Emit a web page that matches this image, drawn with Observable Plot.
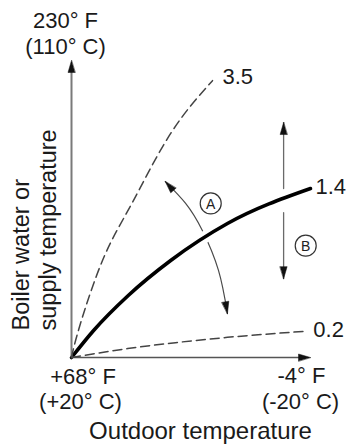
<!DOCTYPE html>
<html><head><meta charset="utf-8">
<script src="https://cdn.jsdelivr.net/npm/d3@7"></script>
<script src="https://cdn.jsdelivr.net/npm/@observablehq/plot@0.6"></script>
<style>body{margin:0;background:#fff}</style>
</head><body><div id="chart"></div>
<script>
// x: outdoor temperature (°C), y: boiler water / supply temperature (°C)
const curve35 = [[20,20],[18.5,30.3],[14.6,50.3],[9.8,67],[3.4,87.9],[-3.6,103.9]];
const curve14 = [[20,20],[16.3,28.2],[10.5,38.8],[3.4,49.4],[-6.1,60.6],[-20,71.2]];
const curve02 = [[20,20],[10.6,22.7],[2.6,24.5],[-6.1,26.1],[-18.8,27.9]];
const slopeLabels = ["3.5","1.4","0.2"];
const arcA = [[4.3,73.3],[0.9,66.7],[-1.9,58.5],[-4.6,46.4],[-6.1,33.3]];
const arrowBUp = [[-15.5,71.2],[-15.5,91.2]];
const arrowBDown = [[-15.5,63.9],[-15.5,43.9]];
const circleLabels = ["A","B"];
const circleX = [-3.3,-19.2];
const circleY = [66.7,53.9];
const xTickPos = [20,-20];
const xTickF = ["+68° F","-4° F"];
const xTickC = ["(+20° C)","(-20° C)"];
const yTickPos = [110];
const yTickF = ["230° F"];
const yTickC = ["(110° C)"];
const xTitle = "Outdoor temperature";
const yTitle = ["Boiler water or","supply temperature"];
const headX = [20,-20,-15.5,-15.5,4.3,-6.1];
const headY = [110,20,91.2,43.9,73.3,33.3];
const headAngle = [0,90,0,180,-42,170];

const X = d => d[0], Y = d => d[1];
const heads = headX.map((x,i)=>({x, y: headY[i], a: headAngle[i]}));
const circles = circleLabels.map((t,i)=>({t, x: circleX[i], y: circleY[i]}));
const ends = [curve35, curve14, curve02].map((c,i)=>({x: c[c.length-1][0], y: c[c.length-1][1], t: slopeLabels[i]}));
const headShape = {draw(ctx, l, r){ ctx.moveTo(0,-l); ctx.lineTo(-r,0); ctx.lineTo(r,0); ctx.closePath(); }};
const font = "'Liberation Sans', Arial, Helvetica, sans-serif";
const tc = "#1a1a1a";
const lbl = (text, x, y, dx, dy, size, extra={}) =>
  Plot.text([text], {x, y, text: d => d, dx, dy, lineAnchor: "bottom", fontSize: size, fill: tc, ...extra});

const chart = Plot.plot({
  width: 349, height: 445,
  marginLeft: 71, marginRight: 39, marginTop: 60, marginBottom: 88,
  x: {domain: [20,-20], axis: null},
  y: {domain: [20,110], axis: null},
  style: {fontFamily: font, background: "#fff"},
  marks: [
    Plot.line(arcA, {x: X, y: Y, curve: "natural", stroke: "#4a4a4a", strokeWidth: 1.2}),
    Plot.line(arrowBUp, {x: X, y: Y, stroke: "#6a6a6a", strokeWidth: 1.3}),
    Plot.line(arrowBDown, {x: X, y: Y, stroke: "#6a6a6a", strokeWidth: 1.3}),
    Plot.line(curve14, {x: X, y: Y, curve: "monotone-x", stroke: "#fff", strokeWidth: 12}),
    Plot.line(curve14, {x: X, y: Y, curve: "monotone-x", stroke: "#000", strokeWidth: 3.6, strokeLinecap: "round"}),
    Plot.ruleX([20], {y1: 20, y2: 108, stroke: "#7a7a7a", strokeWidth: 2}),
    Plot.ruleY([20], {x1: 20, x2: -19, stroke: "#555", strokeWidth: 1.6}),
    Plot.line(curve35, {x: X, y: Y, curve: "natural", stroke: "#444", strokeWidth: 1.5, strokeDasharray: "9,5"}),
    Plot.line(curve02, {x: X, y: Y, curve: "monotone-x", stroke: "#444", strokeWidth: 1.5, strokeDasharray: "9,5"}),
    Plot.vector(heads, {x: "x", y: "y", rotate: "a", length: 12, r: 3.5, anchor: "end", shape: headShape, fill: "#111", stroke: "#111", strokeWidth: 0.5}),
    Plot.dot(circles, {x: "x", y: "y", r: 10.5, stroke: "#333", strokeWidth: 1.2, fill: "#fff"}),
    Plot.text(circles, {x: "x", y: "y", text: "t", fontSize: 14, fill: "#222", dy: 1}),
    lbl(ends[0].t, ends[0].x, ends[0].y, 10, 3, 22, {textAnchor: "start"}),
    lbl(ends[1].t, ends[1].x, ends[1].y, 5, 5, 22, {textAnchor: "start"}),
    lbl(ends[2].t, ends[2].x, ends[2].y, 10, 6, 22, {textAnchor: "start"}),
    lbl(xTickF[0], xTickPos[0], 20, 11.5, 26, 22),
    lbl(xTickC[0], xTickPos[0], 20, 9, 51, 22),
    lbl(xTickF[1], xTickPos[1], 20, -9, 25, 22),
    lbl(xTickC[1], xTickPos[1], 20, -10, 51, 22),
    lbl(yTickF[0], 20, yTickPos[0], -6, -33, 22),
    lbl(yTickC[0], 20, yTickPos[0], -6, -7, 22),
    Plot.text([xTitle], {frameAnchor: "bottom", text: d => d, dx: 9.5, dy: 81, lineAnchor: "bottom", fontSize: 24, fill: tc}),
    Plot.text([yTitle[0]], {frameAnchor: "bottom-left", text: d => d, rotate: -90, textAnchor: "start", lineAnchor: "bottom", dx: -43, dy: -27, fontSize: 23.5, fill: tc}),
    Plot.text([yTitle[1]], {frameAnchor: "bottom-left", text: d => d, rotate: -90, textAnchor: "start", lineAnchor: "bottom", dx: -16, dy: -27, fontSize: 23.5, fill: tc})
  ]
});
document.getElementById("chart").append(chart);
</script>
</body></html>
